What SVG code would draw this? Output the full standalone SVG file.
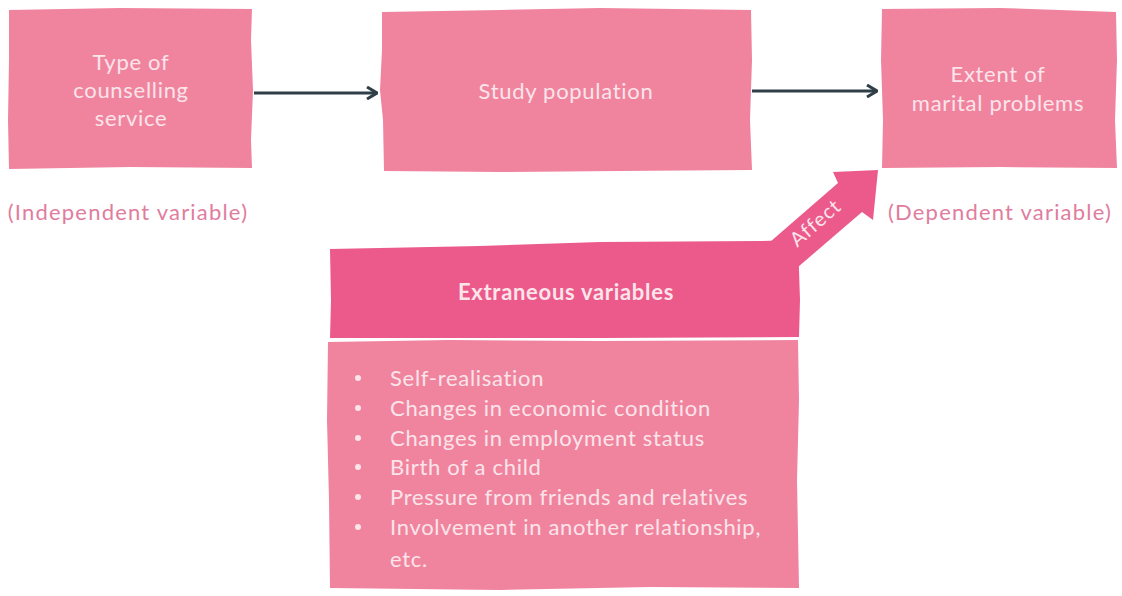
<svg xmlns="http://www.w3.org/2000/svg" width="1122" height="596" viewBox="0 0 1122 596">
<style>
.box{fill:#f0849f}
.hdr{fill:#eb5a8a}
.t{font-family:Lato,"Noto Sans",sans-serif;font-size:22px;letter-spacing:0.7px;fill:#fbe4ea;text-anchor:middle}
.lbl{font-family:Lato,"Noto Sans",sans-serif;font-size:22px;letter-spacing:1.2px;fill:#df7d9e;text-anchor:middle}
.li{font-family:Lato,"Noto Sans",sans-serif;font-size:22px;letter-spacing:0.7px;fill:#fbe4ea}
.conn{stroke:#2f3f48;stroke-width:3;fill:none}
</style>
<defs>
<marker id="ah" viewBox="0 0 12 14" refX="11" refY="7" markerWidth="12" markerHeight="14" markerUnits="userSpaceOnUse" orient="auto">
<path d="M1,1 L11,7 L1,13" fill="none" stroke="#2f3f48" stroke-width="3" stroke-linejoin="miter"/>
</marker>
</defs>
<rect width="1122" height="596" fill="#ffffff"/>
<g id="node-type">
<path class="box" d="M9,10 L120,8 L252,9 L251,40 L253,90 L251,140 L252,168 L130,167 L9,169 L8,120 L9,60 Z"/>
<text class="t" x="131" y="70">Type of</text>
<text class="t" x="131" y="98">counselling</text>
<text class="t" x="131" y="126">service</text>
</g>
<g id="node-study">
<path class="box" d="M382,12 L500,10 L600,8 L751,10 L752,60 L750,120 L752,170 L620,171 L500,172 L384,171 L383,120 L380,90 L382,50 Z"/>
<text class="t" x="566" y="99">Study population</text>
</g>
<g id="node-extent">
<path class="box" d="M882,9 L1000,8 L1116,12 L1117,60 L1115,120 L1117,168 L1000,167 L882,168 L883,120 L881,60 Z"/>
<text class="t" x="998" y="82">Extent of</text>
<text class="t" x="998" y="111">marital problems</text>
</g>
<g id="label-independent">
<text class="lbl" x="128" y="220">(Independent variable)</text>
</g>
<g id="label-dependent">
<text class="lbl" x="1000" y="220">(Dependent variable)</text>
</g>
<g id="node-extraneous">
<path class="box" d="M328,342 L450,340 L600,341 L798,340 L799,400 L797,480 L799,588 L650,587 L500,590 L330,588 L329,500 L327,420 Z"/>
<path class="hdr" d="M330,249 L480,246 L600,242 L760,241 L798,240 L800,300 L799,337 L600,338 L330,338 L331,300 Z"/>
<text class="t" x="566" y="300" style="font-weight:bold">Extraneous variables</text>
<g class="li">
<circle cx="358" cy="378" r="3" fill="#fbe4ea"/>
<circle cx="358" cy="408" r="3" fill="#fbe4ea"/>
<circle cx="358" cy="438" r="3" fill="#fbe4ea"/>
<circle cx="358" cy="467" r="3" fill="#fbe4ea"/>
<circle cx="358" cy="497" r="3" fill="#fbe4ea"/>
<circle cx="358" cy="527" r="3" fill="#fbe4ea"/>
<text x="390" y="386">Self-realisation</text>
<text x="390" y="416">Changes in economic condition</text>
<text x="390" y="446">Changes in employment status</text>
<text x="390" y="475">Birth of a child</text>
<text x="390" y="505">Pressure from friends and relatives</text>
<text x="390" y="535">Involvement in another relationship,</text>
<text x="390" y="567">etc.</text>
</g>
</g>
<g id="connectors">
<line class="conn" x1="254" y1="93" x2="377" y2="93" marker-end="url(#ah)"/>
<line class="conn" x1="752" y1="91" x2="877" y2="91" marker-end="url(#ah)"/>
<g id="affect-arrow">
<path class="hdr" d="M770,242 L838,183 L833,172 L878,170 L873,220 L862,212 L798,267 Z"/>
<text x="0" y="0" transform="translate(820,228) rotate(-41)" style="font-family:Lato,'Noto Sans',sans-serif;font-size:20px;letter-spacing:1px;fill:#fbe4ea;text-anchor:middle">Affect</text>
</g>
</g>
</svg>
